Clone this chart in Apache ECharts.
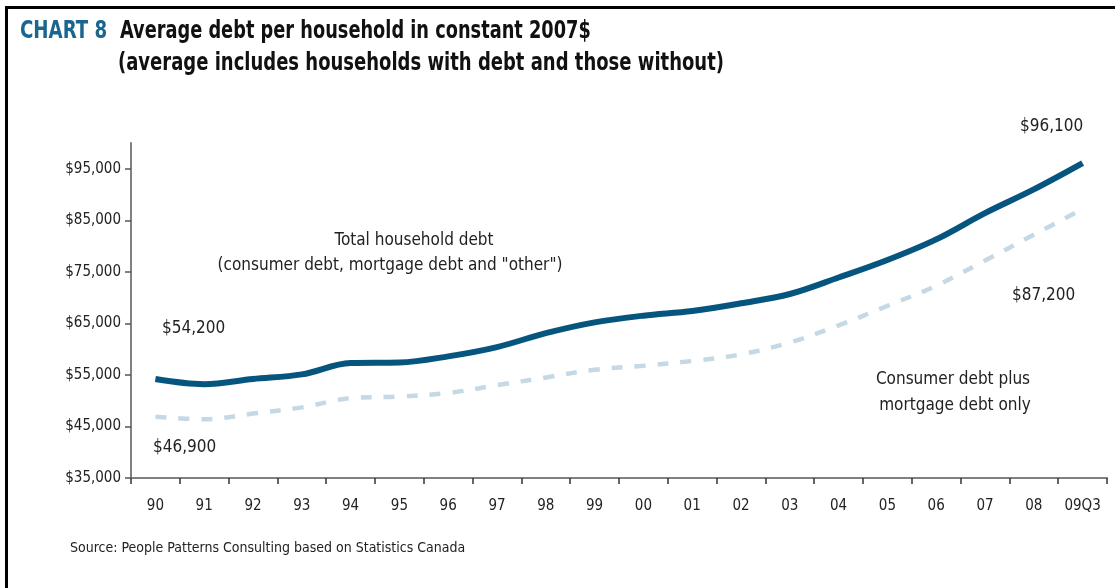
<!DOCTYPE html>
<html>
<head>
<meta charset="utf-8">
<script src="https://cdn.jsdelivr.net/npm/echarts@6/dist/echarts.min.js"></script>
<style>
html,body{margin:0;padding:0;background:#fff;}
#chart{width:1115px;height:588px;}
</style>
</head>
<body>
<div id="chart"></div>
<script>
var categories = ['90','91','92','93','94','95','96','97','98','99','00','01','02','03','04','05','06','07','08','09Q3'];
var totalDebt = [54200, 53200, 54200, 55100, 57300, 57400, 58600, 60400, 63100, 65200, 66500, 67400, 68900, 70700, 73900, 77300, 81300, 86400, 91000, 96100];
var consumerMortgage = [46900, 46400, 47500, 48700, 50500, 50800, 51500, 53000, 54500, 56000, 56800, 57700, 59000, 61300, 64600, 68400, 72300, 77200, 82200, 87200];
var yTicks = [35000, 45000, 55000, 65000, 75000, 85000, 95000];

var FONT = "'Liberation Sans Narrow', 'DejaVu Sans Condensed', 'Noto Sans', sans-serif";
var chart = echarts.init(document.getElementById('chart'));

function money(v){ return '$' + v.toString().replace(/\B(?=(\d{3})+(?!\d))/g, ','); }

function txt(x, y, s, opts){
  opts = opts || {};
  return {type:'text', x:x, y:y, scaleX:opts.scaleX||1, silent:true, style:{text:s, fill:opts.fill||'#222', font:(opts.weight||'normal') + ' ' + (opts.size||17) + 'px ' + FONT, textAlign:opts.align||'left', textVerticalAlign:'middle'}};
}

var option = {
  backgroundColor:'#fff',
  animation:false,
  grid:{left:131, right:8, top:143, bottom:110, containLabel:false},
  xAxis:{
    type:'category', data:categories, boundaryGap:true,
    axisLine:{lineStyle:{color:'#808080', width:2}},
    axisTick:{show:true, length:6, lineStyle:{color:'#333', width:1.5}},
    axisLabel:{color:'#222', fontFamily:FONT, fontSize:15, margin:21, interval:0}
  },
  yAxis:{
    type:'value', min:35000, max:100000,
    splitLine:{show:false},
    axisLine:{show:true, lineStyle:{color:'#808080', width:2}},
    axisTick:{show:true, length:6, customValues:yTicks, lineStyle:{color:'#555', width:1.5}},
    axisLabel:{color:'#222', fontFamily:FONT, fontSize:15, margin:10, customValues:yTicks, formatter:function(v){return money(v);}}
  },
  series:[
    {type:'line', data:consumerMortgage, smooth:0.35, symbol:'none',
     lineStyle:{color:'#c5d8e4', width:4.5, type:[11,12], cap:'butt'}},
    {type:'line', data:totalDebt, smooth:0.35, symbol:'none',
     lineStyle:{color:'#06557f', width:6}}
  ],
  graphic:[
    {type:'rect', shape:{x:5, y:6, width:1112, height:3}, style:{fill:'#000'}},
    {type:'rect', shape:{x:5, y:6, width:3, height:590}, style:{fill:'#000'}},
    txt(20, 31, 'CHART 8', {weight:'bold', size:25, fill:'#1b6690', scaleX:0.81}),
    txt(120, 31, 'Average debt per household in constant 2007$', {weight:'bold', size:25, fill:'#111', scaleX:0.79}),
    txt(118, 63, '(average includes households with debt and those without)', {weight:'bold', size:25, fill:'#111', scaleX:0.8}),
    txt(414, 241, 'Total household debt', {align:'center'}),
    txt(390, 266, '(consumer debt, mortgage debt and "other")', {align:'center'}),
    txt(162, 329, money(totalDebt[0])),
    txt(153, 448, money(consumerMortgage[0])),
    txt(1020, 127, money(totalDebt[totalDebt.length-1])),
    txt(1012, 296, money(consumerMortgage[consumerMortgage.length-1])),
    txt(953, 380, 'Consumer debt plus', {align:'center'}),
    txt(955, 406, 'mortgage debt only', {align:'center'}),
    txt(70, 548, 'Source: People Patterns Consulting based on Statistics Canada', {size:14})
  ]
};
chart.setOption(option);
</script>
</body>
</html>
